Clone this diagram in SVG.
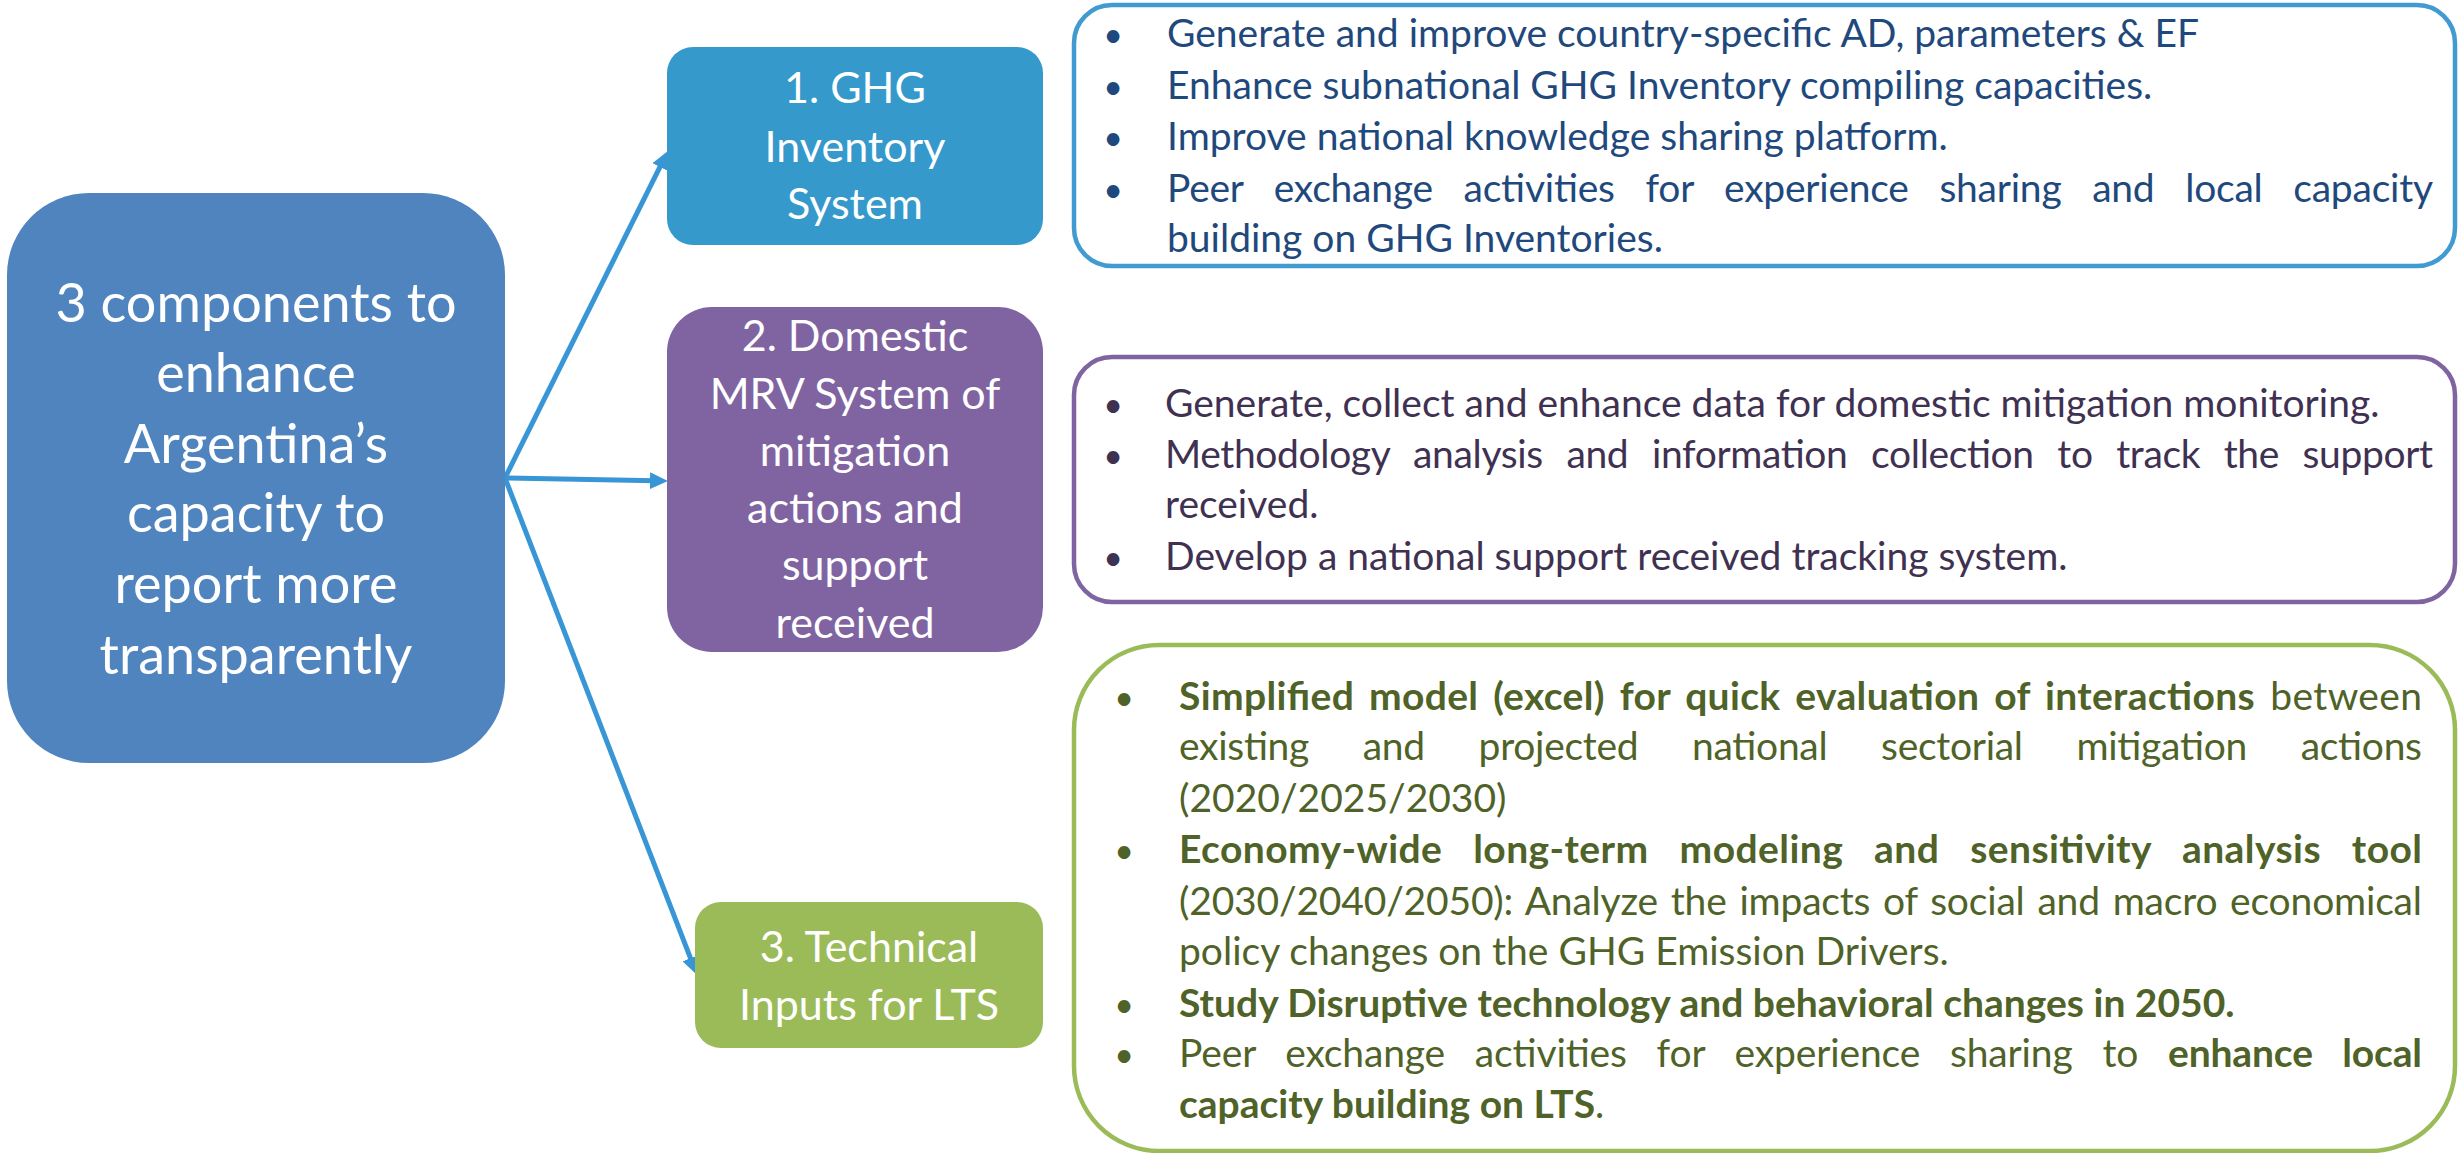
<svg xmlns="http://www.w3.org/2000/svg" width="2458" height="1153" viewBox="0 0 2458 1153">
<style>
  text { font-family: Lato, "Open Sans", "Liberation Sans", sans-serif; }
  .wt { fill: #ffffff; text-anchor: middle; }
  .main { font-size: 54px; }
  .comp { font-size: 43px; }
  .t1 { font-size: 39px; fill: #1f497d; }
  .t2 { font-size: 39px; fill: #3f3151; }
  .t3 { font-size: 39px; fill: #4f6228; }
  .bul { text-anchor: middle; font-size: 34px; }
  .b { font-weight: bold; }
  .conn { stroke: #3896d6; stroke-width: 5; fill: none; marker-end: url(#arrow); }
  .panel { fill: #ffffff; stroke-width: 4.5; }
</style>
<defs>
  <marker id="arrow" markerUnits="userSpaceOnUse" markerWidth="18" markerHeight="17" refX="6" refY="8.5" orient="auto">
    <path d="M0,0 L18,8.5 L0,17 z" fill="#3896d6"/>
  </marker>
</defs>
<rect width="2458" height="1153" fill="#ffffff"/>

<g id="connectors">
  <line class="conn" x1="505" y1="478" x2="662.6" y2="161.7"/>
  <line class="conn" x1="505" y1="478" x2="656" y2="480.8"/>
  <line class="conn" x1="505" y1="478" x2="692.7" y2="963.8"/>
</g>

<g id="main">
  <rect x="7" y="193" width="498" height="570" rx="82" ry="82" fill="#4f84bf"/>
  <text class="wt main" x="256" y="322">3 components to</text>
  <text class="wt main" x="256" y="392">enhance</text>
  <text class="wt main" x="256" y="463">Argentina’s</text>
  <text class="wt main" x="256" y="532">capacity to</text>
  <text class="wt main" x="256" y="603">report more</text>
  <text class="wt main" x="256" y="674">transparently</text>
</g>

<g id="ghg">
  <rect x="667" y="47" width="376" height="198" rx="26" ry="26" fill="#3599cc"/>
  <text class="wt comp" x="855" y="103">1. GHG</text>
  <text class="wt comp" x="855" y="162">Inventory</text>
  <text class="wt comp" x="855" y="219">System</text>
</g>

<g id="mrv">
  <rect x="667" y="307" width="376" height="345" rx="45" ry="45" fill="#8064a2"/>
  <text class="wt comp" x="855" y="351">2. Domestic</text>
  <text class="wt comp" x="855" y="409">MRV System of</text>
  <text class="wt comp" x="855" y="466">mitigation</text>
  <text class="wt comp" x="855" y="523">actions and</text>
  <text class="wt comp" x="855" y="580">support</text>
  <text class="wt comp" x="855" y="638">received</text>
</g>

<g id="lts">
  <rect x="695" y="902" width="348" height="146" rx="26" ry="26" fill="#9bbb59"/>
  <text class="wt comp" x="869" y="962">3. Technical</text>
  <text class="wt comp" x="869" y="1020">Inputs for LTS</text>
</g>

<g id="ghg-details">
  <rect class="panel" x="1074" y="5" width="1381" height="261" rx="38" ry="38" stroke="#419bd1"/>
  <text class="t1 bul" x="1113" y="47">•</text>
  <text class="t1" x="1167" y="47">Generate and improve country-specific AD, parameters &amp; EF</text>
  <text class="t1 bul" x="1113" y="99">•</text>
  <text class="t1" x="1167" y="99">Enhance subnational GHG Inventory compiling capacities.</text>
  <text class="t1 bul" x="1113" y="150">•</text>
  <text class="t1" x="1167" y="150">Improve national knowledge sharing platform.</text>
  <text class="t1 bul" x="1113" y="202">•</text>
  <text class="t1" x="1167" y="202" textLength="1266" lengthAdjust="spacing" style="word-spacing:21px">Peer exchange activities for experience sharing and local capacity</text>
  <text class="t1" x="1167" y="252">building on GHG Inventories.</text>
</g>

<g id="mrv-details">
  <rect class="panel" x="1074" y="357" width="1381" height="245" rx="38" ry="38" stroke="#8064a2"/>
  <text class="t2 bul" x="1113" y="417">•</text>
  <text class="t2" x="1165" y="417">Generate, collect and enhance data for domestic mitigation monitoring.</text>
  <text class="t2 bul" x="1113" y="468">•</text>
  <text class="t2" x="1165" y="468" textLength="1268" lengthAdjust="spacing" style="word-spacing:14px">Methodology analysis and information collection to track the support</text>
  <text class="t2" x="1165" y="518">received.</text>
  <text class="t2 bul" x="1113" y="570">•</text>
  <text class="t2" x="1165" y="570">Develop a national support received tracking system.</text>
</g>

<g id="lts-details">
  <rect class="panel" x="1074" y="645" width="1381" height="506" rx="85" ry="85" stroke="#9bbb59"/>
  <text class="t3 bul" x="1124" y="710">•</text>
  <text class="t3" x="1179" y="710" textLength="1243" lengthAdjust="spacing" style="word-spacing:5px"><tspan class="b">Simplified model (excel) for quick evaluation of interactions</tspan> between</text>
  <text class="t3" x="1179" y="760" textLength="1243" lengthAdjust="spacing" style="word-spacing:44px">existing and projected national sectorial mitigation actions</text>
  <text class="t3" x="1179" y="812">(2020/2025/2030)</text>
  <text class="t3 bul" x="1124" y="863">•</text>
  <text class="t3 b" x="1179" y="863" textLength="1243" lengthAdjust="spacing" style="word-spacing:21px">Economy-wide long-term modeling and sensitivity analysis tool</text>
  <text class="t3" x="1179" y="915" textLength="1243" lengthAdjust="spacing" style="word-spacing:3px">(2030/2040/2050): Analyze the impacts of social and macro economical</text>
  <text class="t3" x="1179" y="965">policy changes on the GHG Emission Drivers.</text>
  <text class="t3 bul" x="1124" y="1017">•</text>
  <text class="t3 b" x="1179" y="1017">Study Disruptive technology and behavioral changes in 2050.</text>
  <text class="t3 bul" x="1124" y="1067">•</text>
  <text class="t3" x="1179" y="1067" textLength="1243" lengthAdjust="spacing" style="word-spacing:20px">Peer exchange activities for experience sharing to <tspan class="b">enhance local</tspan></text>
  <text class="t3" x="1179" y="1118"><tspan class="b">capacity building on LTS</tspan>.</text>
</g>
</svg>
